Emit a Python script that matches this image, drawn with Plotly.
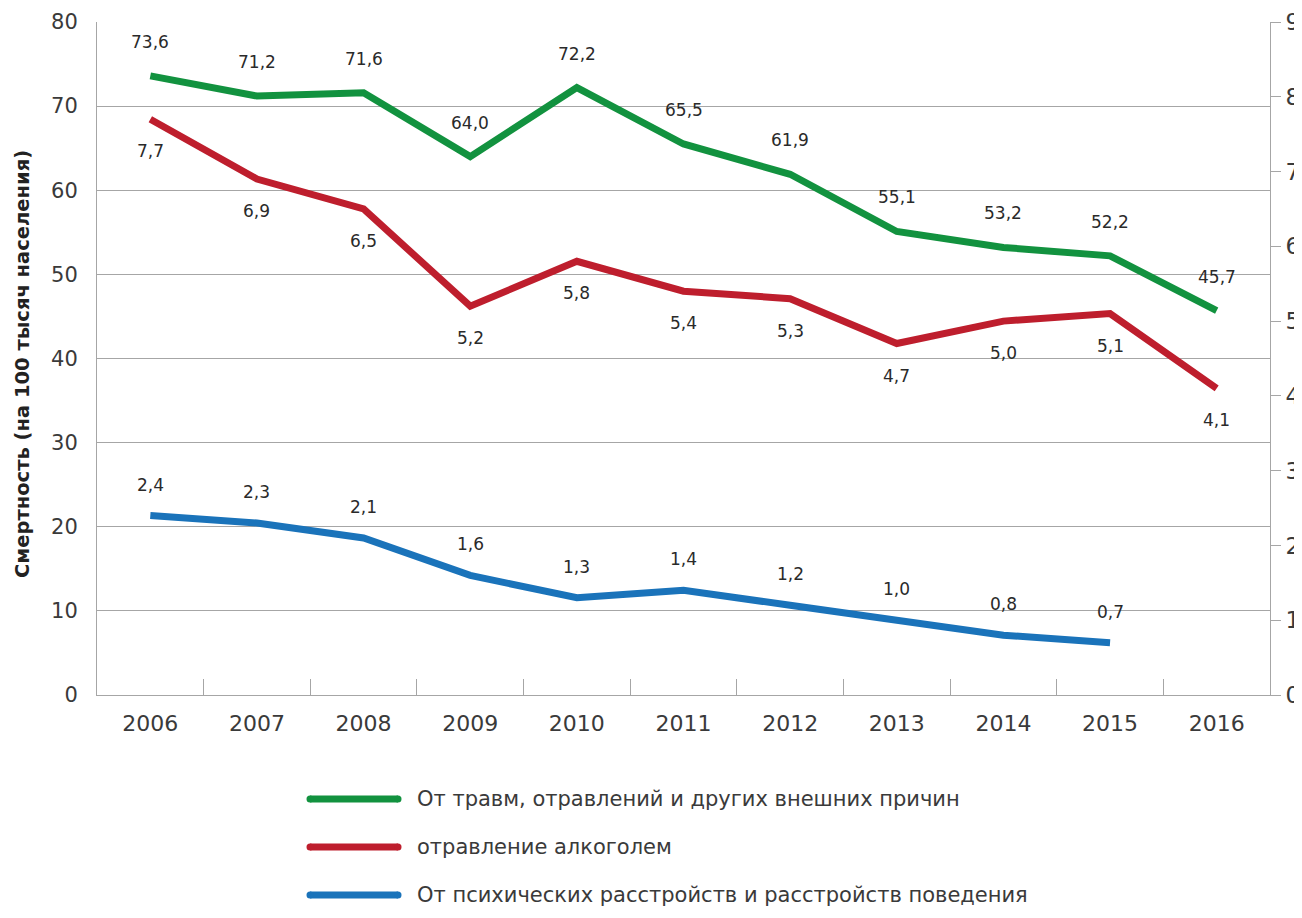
import plotly.graph_objects as go

years = ["2006", "2007", "2008", "2009", "2010", "2011", "2012", "2013", "2014", "2015", "2016"]
external = [73.6, 71.2, 71.6, 64.0, 72.2, 65.5, 61.9, 55.1, 53.2, 52.2, 45.7]
alcohol = [7.7, 6.9, 6.5, 5.2, 5.8, 5.4, 5.3, 4.7, 5.0, 5.1, 4.1]
mental_years = ["2006", "2007", "2008", "2009", "2010", "2011", "2012", "2013", "2014", "2015"]
mental = [2.4, 2.3, 2.1, 1.6, 1.3, 1.4, 1.2, 1.0, 0.8, 0.7]

names = [
    "От травм, отравлений и других внешних причин",
    "отравление алкоголем",
    "От психических расстройств и расстройств поведения",
]
colors = ["#12923F", "#BE1E2D", "#1A73BA"]

FONT = "DejaVu Sans"
TXT = "#3a3a3a"
AX = "#A6A6A6"

fig = go.Figure()
fig.add_trace(go.Scatter(x=years, y=external, mode="lines", name=names[0],
                         line=dict(color=colors[0], width=7), yaxis="y"))
fig.add_trace(go.Scatter(x=years, y=alcohol, mode="lines", name=names[1],
                         line=dict(color=colors[1], width=7), yaxis="y2"))
fig.add_trace(go.Scatter(x=mental_years, y=mental, mode="lines", name=names[2],
                         line=dict(color=colors[2], width=7), yaxis="y2"))


def fmt(v):
    return f"{v:.1f}".replace(".", ",")


annotations = []
for xs, ys, yref, shift in [(years, external, "y", 34), (years, alcohol, "y2", -32),
                            (mental_years, mental, "y2", 31)]:
    for xv, yv in zip(xs, ys):
        annotations.append(dict(x=years.index(xv), y=yv, xref="x", yref=yref, text=fmt(yv),
                                showarrow=False, yshift=shift,
                                font=dict(family=FONT, size=17, color="#2a2a2a")))

plot_l, plot_w = 97, 1173
plot_bottom, plot_h = 695, 673

# y-axis title
annotations.append(dict(x=(22 - plot_l) / plot_w, y=(plot_bottom - 364) / plot_h,
                        xref="paper", yref="paper", xanchor="center", yanchor="middle",
                        text="<b>Смертность (на 100 тысяч населения)</b>", textangle=-90,
                        showarrow=False, font=dict(family=FONT, size=19.5, color="#222222")))

# manual legend
shapes = []
for i, (nm, col) in enumerate(zip(names, colors)):
    py = 799 + i * 48
    yp = (plot_bottom - py) / plot_h
    x0 = (310 - plot_l) / plot_w
    x1 = (398 - plot_l) / plot_w
    shapes.append(dict(type="line", xref="paper", yref="paper", x0=x0, x1=x1, y0=yp, y1=yp,
                       line=dict(color=col, width=7)))
    for ex in (310, 398):
        shapes.append(dict(type="circle", xref="paper", yref="paper",
                           x0=(ex - 3.5 - plot_l) / plot_w, x1=(ex + 3.5 - plot_l) / plot_w,
                           y0=yp - 3.5 / plot_h, y1=yp + 3.5 / plot_h,
                           fillcolor=col, line=dict(width=0)))
    annotations.append(dict(x=(415 - plot_l) / plot_w, y=yp, xref="paper", yref="paper",
                            text=nm, showarrow=False, xanchor="left", yanchor="middle",
                            font=dict(family=FONT, size=21, color=TXT)))

# page body has an 8px margin: figure origin sits at (8, 8)
fig.update_layout(
    width=1294, height=900,
    margin=dict(l=89, r=32, t=14, b=213, autoexpand=False),
    paper_bgcolor="white", plot_bgcolor="white",
    showlegend=False,
    font=dict(family=FONT, size=20, color=TXT),
    xaxis=dict(type="category", range=[-0.5, 10.5], tickson="boundaries",
               ticks="inside", ticklen=16, tickcolor=AX, showgrid=False,
               showline=True, linecolor=AX, linewidth=1, automargin=False,
               ticklabelstandoff=9,
               tickfont=dict(family=FONT, size=22, color=TXT)),
    yaxis=dict(range=[0, 80], tickvals=[0, 10, 20, 30, 40, 50, 60, 70, 80],
               showgrid=True, gridcolor=AX, gridwidth=1, zeroline=False,
               showline=True, linecolor=AX, linewidth=1, ticks="",
               ticklabelstandoff=14, automargin=False,
               tickfont=dict(family=FONT, size=21, color=TXT)),
    yaxis2=dict(range=[0, 9], tickvals=list(range(10)), overlaying="y", side="right",
                showgrid=False, zeroline=False, showline=True, linecolor=AX, linewidth=1,
                ticks="outside", ticklen=10, tickcolor=AX, automargin=False,
                tickfont=dict(family=FONT, size=23, color=TXT)),
    yaxis3=dict(range=[0, 9], tickvals=list(range(10)), overlaying="y", side="right",
                showgrid=False, zeroline=False, showline=False, showticklabels=False,
                ticks="inside", ticklen=20, tickcolor=AX, automargin=False),
    annotations=annotations,
    shapes=shapes,
)

fig.write_html("out.html")
